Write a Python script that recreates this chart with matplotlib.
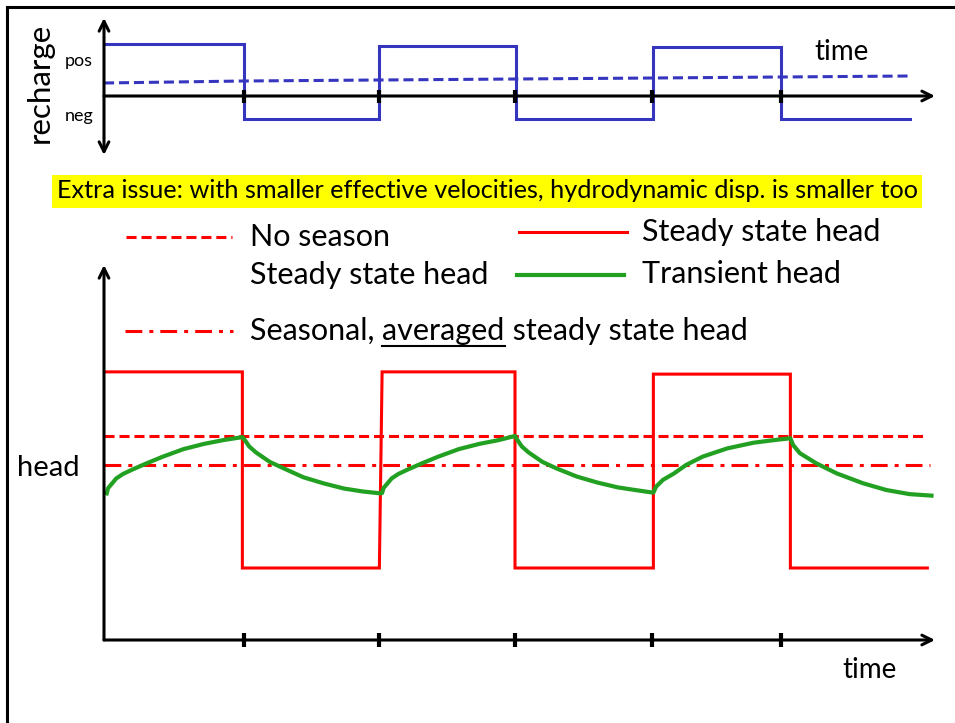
import matplotlib
matplotlib.use("Agg")
import matplotlib.pyplot as plt
from matplotlib.lines import Line2D
from matplotlib.patches import Rectangle

plt.rcParams['font.family'] = ['Lato', 'DejaVu Sans']

W, H = 955, 723

# ---- data (time in season units, recharge/head in arbitrary units) ----
tick_times = [1.02, 2.01, 3.0, 4.0, 4.94]

rech_t = [0, 1.02, 1.02, 2.01, 2.01, 3.01, 3.01, 4.01, 4.01, 4.94, 4.94, 5.88]
rech_v = [2.08, 2.08, -0.92, -0.92, 2.0, 2.0, -0.92, -0.92, 1.96, 1.96, -0.92, -0.92]

rech_avg_t = [0, 1.02, 2.01, 3.01, 4.01, 4.94, 5.88]
rech_avg_v = [0.52, 0.6, 0.64, 0.68, 0.72, 0.76, 0.8]

ss_t = [0, 1.01, 1.01, 2.01, 2.03, 3.0, 3.0, 4.01, 4.01, 5.01, 5.01, 6.01]
ss_v = [7.15, 7.15, 1.92, 1.92, 7.15, 7.15, 1.92, 1.92, 7.09, 7.09, 1.92, 1.92]

no_season_t = [0, 6.01]
no_season_v = [5.44, 5.44]
avg_ss_t = [0, 6.03]
avg_ss_v = [4.67, 4.67]

tr_t = [0.02, 0.03, 0.06, 0.09, 0.14, 0.21, 0.31, 0.43, 0.58, 0.73, 0.87, 1.01,
        1.03, 1.06, 1.11, 1.21, 1.31, 1.455, 1.60, 1.75, 1.89, 2.02,
        2.03, 2.04, 2.07, 2.10, 2.15, 2.22, 2.32, 2.44, 2.59, 2.74, 2.88, 3.0,
        3.02, 3.05, 3.10, 3.20, 3.30, 3.45, 3.60, 3.75, 3.84, 3.95, 4.01,
        4.03, 4.08, 4.16, 4.25, 4.37, 4.55, 4.74, 4.89, 5.01,
        5.03, 5.08, 5.20, 5.35, 5.54, 5.71, 5.88, 6.04]
tr_v = [3.91, 4.05, 4.18, 4.31, 4.43, 4.55, 4.71, 4.89, 5.09, 5.23, 5.33, 5.41,
        5.32, 5.16, 5.00, 4.75, 4.58, 4.34, 4.18, 4.04, 3.96, 3.91,
        3.92, 4.05, 4.18, 4.31, 4.43, 4.55, 4.71, 4.89, 5.09, 5.23, 5.33, 5.44,
        5.32, 5.16, 5.00, 4.75, 4.58, 4.36, 4.20, 4.07, 4.02, 3.96, 3.93,
        4.09, 4.27, 4.44, 4.67, 4.89, 5.11, 5.26, 5.33, 5.38,
        5.20, 4.98, 4.71, 4.44, 4.18, 4.00, 3.89, 3.85]

blue = '#3535c0'
red = '#ff0000'
green = '#22a022'


def fx(x):
    return x / W


def fy(y):
    return 1 - y / H


fig = plt.figure(figsize=(W / 100, H / 100), dpi=100)
renderer = fig.canvas.get_renderer()

# frame of the slide (top and left edges only visible)
fig.add_artist(Line2D([fx(7), 1], [fy(7), fy(7)], color='black', lw=2.2))
fig.add_artist(Line2D([fx(7), fx(7)], [fy(7), 0], color='black', lw=2.2))

xmax = (945 - 104) / 137
arrow_end = (935 - 104) / 137

# ---- top panel: recharge ----
ax1 = fig.add_axes([fx(104), fy(158), fx(945) - fx(104), (158 - 15) / H])
ax1.set_xlim(0, xmax)
ax1.set_ylim((96 - 158) / 25, (96 - 15) / 25)
ax1.axis('off')
ax1.plot(rech_t, rech_v, color=blue, lw=2.2, solid_joinstyle='miter')
ax1.plot(rech_avg_t, rech_avg_v, color=blue, lw=2.2, dashes=(3.3, 1.6))
arr = dict(arrowstyle='->,head_length=0.7,head_width=0.35', lw=2.2, color='black',
           shrinkA=0, shrinkB=0)
ax1.annotate('', xy=(arrow_end, 0), xytext=(0, 0), arrowprops=arr)
ax1.annotate('', xy=(0, 3.12), xytext=(0, -2.36),
             arrowprops=dict(arr, arrowstyle='<->,head_length=0.7,head_width=0.35'))
ax1.vlines(tick_times, -0.26, 0.26, color='black', lw=3)

fig.text(fx(40), fy(83), 'recharge', rotation=90, fontsize=22.5, ha='center', va='center')
fig.text(fx(93), fy(61), 'pos', fontsize=13, ha='right', va='center')
fig.text(fx(93), fy(116), 'neg', fontsize=13, ha='right', va='center')
fig.text(fx(842), fy(52), 'time', fontsize=20, ha='center', va='center')

# ---- banner ----
fig.add_artist(Rectangle((fx(52), fy(208)), fx(922) - fx(52), (208 - 175) / H,
                         facecolor='#ffff00', edgecolor='none'))
banner = fig.text(fx(487), fy(191),
                  'Extra issue: with smaller effective velocities, hydrodynamic disp. is smaller too',
                  fontsize=16, ha='center', va='center')
bw = banner.get_window_extent(renderer).width
banner.set_fontsize(16 * 864 / bw)

# ---- bottom panel: head ----
ax2 = fig.add_axes([fx(104), fy(650), fx(945) - fx(104), (650 - 258) / H])
ax2.set_xlim(0, xmax)
ax2.set_ylim((640 - 650) / 37.5, (640 - 258) / 37.5)
ax2.axis('off')
ax2.plot(no_season_t, no_season_v, color=red, lw=2.2, dashes=(3.3, 1.6))
ax2.plot(avg_ss_t, avg_ss_v, color=red, lw=2.2, dashes=(5.5, 2.3, 1.3, 2.3))
ax2.plot(ss_t, ss_v, color=red, lw=2.2, solid_joinstyle='miter')
ax2.plot(tr_t, tr_v, color=green, lw=3, solid_joinstyle='round')
ax2.annotate('', xy=(arrow_end, 0), xytext=(0, 0), arrowprops=arr)
ax2.annotate('', xy=(0, 10), xytext=(0, 0), arrowprops=arr)
ax2.vlines(tick_times, -0.19, 0.19, color='black', lw=3)

fig.text(fx(48), fy(468), 'head', fontsize=21, ha='center', va='center')
fig.text(fx(870), fy(670), 'time', fontsize=20, ha='center', va='center')

# ---- legend (drawn by hand, as on the slide) ----
fig.add_artist(Line2D([fx(126), fx(232)], [fy(237)] * 2, color=red, lw=2.2, dashes=(3.3, 1.6)))
fig.add_artist(Line2D([fx(519), fx(627)], [fy(232)] * 2, color=red, lw=2.2))
fig.add_artist(Line2D([fx(517), fx(624)], [fy(275)] * 2, color=green, lw=3))
fig.add_artist(Line2D([fx(125), fx(233)], [fy(331)] * 2, color=red, lw=2.2,
                      dashes=(5.5, 2.3, 1.3, 2.3)))

lfs = 22
fig.text(fx(250), fy(237), 'No season', fontsize=lfs, va='center')
fig.text(fx(250), fy(275), 'Steady state head', fontsize=lfs, va='center')
fig.text(fx(642), fy(232), 'Steady state head', fontsize=lfs, va='center')
fig.text(fx(642), fy(274), 'Transient head', fontsize=lfs, va='center')

t1 = fig.text(fx(250), fy(331), 'Seasonal, ', fontsize=lfs, va='center')
x1 = t1.get_window_extent(renderer).x1 / W
t2 = fig.text(x1, fy(331), 'averaged', fontsize=lfs, va='center')
bb = t2.get_window_extent(renderer)
fig.add_artist(Line2D([bb.x0 / W, bb.x1 / W], [bb.y0 / H - 0.001] * 2, color='black', lw=1.5))
fig.text(bb.x1 / W, fy(331), ' steady state head', fontsize=lfs, va='center')

fig.savefig('out.png', dpi=100)
